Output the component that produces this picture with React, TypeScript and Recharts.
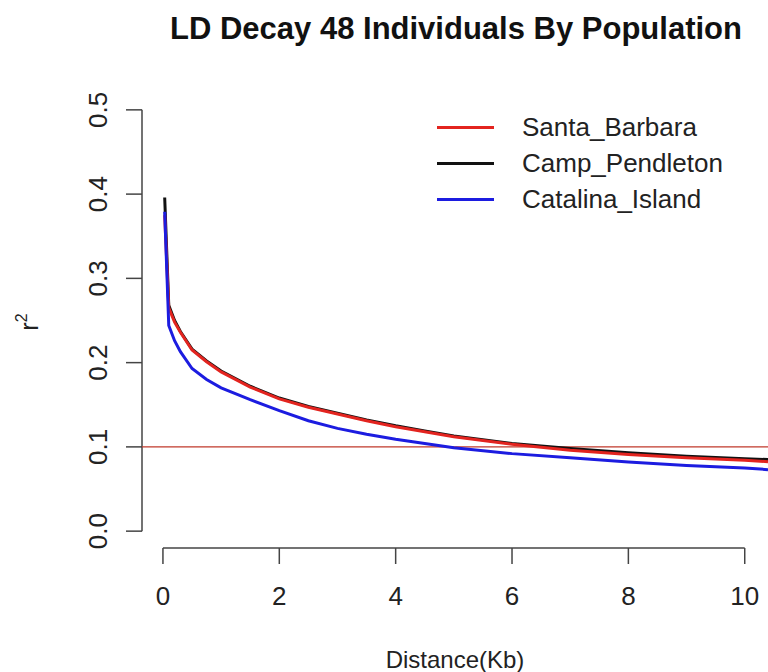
import React from 'react';
import { LineChart, Line, XAxis, YAxis, ReferenceLine } from 'recharts';

// distance in Kb, r^2 values
const distance = [0.03, 0.1, 0.2, 0.3, 0.5, 0.75, 1, 1.5, 2, 2.5, 3, 3.5, 4, 4.5, 5, 6, 7, 8, 9, 10, 10.4];
const santaBarbara = [0.375, 0.265, 0.248, 0.236, 0.215, 0.201, 0.189, 0.171, 0.157, 0.147, 0.139, 0.131, 0.124, 0.118, 0.112, 0.103, 0.096, 0.091, 0.087, 0.084, 0.0825];
const campPendleton = [0.396, 0.268, 0.25, 0.237, 0.216, 0.202, 0.19, 0.172, 0.158, 0.148, 0.14, 0.132, 0.125, 0.119, 0.113, 0.104, 0.098, 0.093, 0.089, 0.086, 0.085];
const catalinaIsland = [0.379, 0.244, 0.226, 0.213, 0.193, 0.18, 0.17, 0.156, 0.143, 0.131, 0.122, 0.115, 0.109, 0.104, 0.099, 0.092, 0.087, 0.082, 0.078, 0.075, 0.073];

const xTicks = [0, 2, 4, 6, 8, 10];
const yTicks = [0, 0.1, 0.2, 0.3, 0.4, 0.5];

const series = [
  { key: 'sb', name: 'Santa_Barbara', color: '#e3241f' },
  { key: 'cp', name: 'Camp_Pendleton', color: '#111111' },
  { key: 'ci', name: 'Catalina_Island', color: '#1c1ce0' },
];

const data = distance.map((d, i) => ({
  d,
  sb: santaBarbara[i],
  cp: campPendleton[i],
  ci: catalinaIsland[i],
}));

const FONT = '"Liberation Sans", Arial, sans-serif';
const AXIS = '#444';

const XTick = ({ x, y, payload }: any) => (
  <text x={x} y={y + 39} textAnchor="middle" fontSize={26} fontFamily={FONT} fill="#222">
    {payload.value}
  </text>
);

const YTick = ({ x, y, payload }: any) => (
  <text
    x={x - 17}
    y={y}
    textAnchor="middle"
    fontSize={26}
    fontFamily={FONT}
    fill="#222"
    transform={`rotate(-90, ${x - 17}, ${y})`}
  >
    {Number(payload.value).toFixed(1)}
  </text>
);

const YLabel = () => (
  <text x={38} y={322} textAnchor="middle" fontSize={25} fontFamily={FONT} fill="#222" transform="rotate(-90, 38, 322)">
    r<tspan fontSize={16} dy={-11}>2</tspan>
  </text>
);

export default function App() {
  return (
    <div style={{ position: 'absolute', left: 0, top: 0, width: 768, height: 672, background: '#fff', fontFamily: FONT }}>
      <div style={{ position: 'absolute', left: 0, width: 912, top: 11, textAlign: 'center', fontSize: 31, fontWeight: 'bold', color: '#111' }}>
        LD Decay 48 Individuals By Population
      </div>

      <LineChart width={768} height={672} data={data} margin={{ top: 93, right: 0, left: 0, bottom: 0 }}>
        <XAxis
          dataKey="d"
          type="number"
          domain={[-0.36, 10.4]}
          allowDataOverflow
          ticks={xTicks}
          interval={0}
          height={124}
          tickSize={16}
          axisLine={false}
          tickLine={{ stroke: AXIS, strokeWidth: 1.5 }}
          tick={<XTick />}
          label={{
            value: 'Distance(Kb)',
            position: 'insideBottom',
            offset: 4,
            style: { fontSize: 24, fontFamily: FONT, fill: '#222' },
          }}
        />
        <YAxis
          type="number"
          domain={[-0.02, 0.52]}
          allowDataOverflow
          ticks={yTicks}
          interval={0}
          width={142}
          tickSize={16}
          axisLine={false}
          tickLine={{ stroke: AXIS, strokeWidth: 1.5 }}
          tick={<YTick />}
          label={{ content: <YLabel /> }}
        />
        <ReferenceLine
          segment={[{ x: -0.36, y: 0 }, { x: -0.36, y: 0.5 }]}
          stroke={AXIS}
          strokeWidth={1.5}
          ifOverflow="visible"
        />
        <ReferenceLine
          segment={[{ x: 0, y: -0.02 }, { x: 10, y: -0.02 }]}
          stroke={AXIS}
          strokeWidth={1.5}
          ifOverflow="visible"
        />
        <ReferenceLine y={0.1} stroke="#c0392b" strokeWidth={1.2} />
        <Line type="linear" dataKey="cp" stroke="#111111" strokeWidth={3} dot={false} isAnimationActive={false} />
        <Line type="linear" dataKey="sb" stroke="#e3241f" strokeWidth={3} dot={false} isAnimationActive={false} />
        <Line type="linear" dataKey="ci" stroke="#1c1ce0" strokeWidth={3} dot={false} isAnimationActive={false} />
      </LineChart>

      <div style={{ position: 'absolute', left: 437, top: 109 }}>
        {series.map((s) => (
          <div key={s.key} style={{ display: 'flex', alignItems: 'center', height: 36 }}>
            <div style={{ width: 57, height: 3, background: s.color }} />
            <span style={{ marginLeft: 28, fontSize: 26, color: '#222' }}>{s.name}</span>
          </div>
        ))}
      </div>
    </div>
  );
}
